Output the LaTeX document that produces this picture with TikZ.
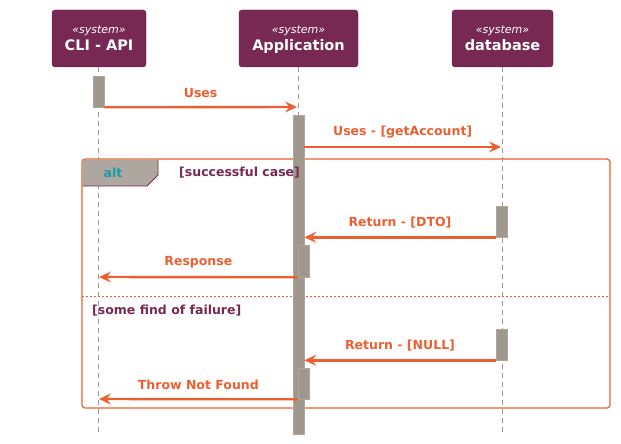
\documentclass[tikz,border=0pt]{standalone}
\usepackage{fontspec}
\setmainfont{DejaVu Sans}
\usetikzlibrary{arrows.meta,positioning}
\definecolor{umlpurple}{HTML}{772953}
\definecolor{umlorange}{HTML}{EC5F30}
\definecolor{umlgray}{HTML}{A0978F}
\definecolor{umlteal}{HTML}{1A9BAA}
\begin{document}
\begin{tikzpicture}[x=1pt,y=-1pt,
	actor/.style={fill=umlpurple,draw=umlpurple!80!black,rounded corners=3pt,text=white,align=center,minimum height=57pt,inner sep=0pt},
	stereo/.style={text=white,font=\fontsize{11}{12}\selectfont\itshape,anchor=base,inner sep=0pt},
	actname/.style={text=white,font=\fontsize{14.5}{16}\selectfont\bfseries,anchor=base,inner sep=0pt},
	lifeline/.style={draw=umlgray,line width=0.9pt,dash pattern=on 5pt off 4pt},
	actbar/.style={fill=umlgray,draw=umlgray!85!white,line width=0.6pt,minimum width=11pt,inner sep=0pt},
	msg/.style={draw=umlorange,line width=2.4pt,-{Stealth[length=12pt,width=11pt,inset=4.5pt]}},
	lbl/.style={text=umlorange,font=\fontsize{12.5}{14}\selectfont\bfseries,inner sep=1pt},
	guard/.style={text=umlpurple,font=\fontsize{12.5}{14}\selectfont\bfseries,inner sep=0pt,anchor=west}]
	\useasboundingbox (0,0) rectangle (621,444);
	% participants
	\path (99,38.5) node (cli) [actor,minimum width=94pt] {}
		  (298.5,38.5) node (app) [actor,minimum width=119pt] {}
		  (502.5,38.5) node (db) [actor,minimum width=101pt] {};
	\path (99,34) node (clist) [stereo] {«system»}
		  (298.5,34) node (appst) [stereo] {«system»}
		  (502.5,34) node (dbst) [stereo] {«system»}
		  (99,51) node (cliname) [actname] {CLI - API}
		  (298.5,51) node (appname) [actname] {Application}
		  (502.5,51) node (dbname) [actname] {database};
	\path (98,436) coordinate (cliend)
		  (298,436) coordinate (append)
		  (502,436) coordinate (dbend);
	\draw[lifeline] (cli.south -| cliend) -- (cliend);
	\draw[lifeline] (app.south -| append) -- (append);
	\draw[lifeline] (db.south -| dbend) -- (dbend);
	% alt frame
	\draw[umlorange,line width=1.2pt,rounded corners=3pt] (82,159) rectangle (610,408);
	\fill[umlgray!85!white] (82.6,159.6) -- (158,159.6) -- (158,175) -- (147,186) -- (82.6,186) -- cycle;
	\draw[umlpurple,line width=0.8pt] (82.6,186) -- (147,186) -- (158,175) -- (158,159.6);
	\draw[umlorange,line width=0.9pt,dash pattern=on 2pt off 2pt] (82,296) -- (610,296);
	% activations
	\path (98.5,91.5) node (actcli) [actbar,minimum height=31pt] {}
		  (298.5,274.5) node (actapp) [actbar,minimum height=319pt] {}
		  (501.5,221.5) node (actdba) [actbar,minimum height=31pt] {}
		  (303.5,261) node (actappa) [actbar,minimum height=32pt] {}
		  (501.5,344.5) node (actdbb) [actbar,minimum height=31pt] {}
		  (303.5,383.5) node (actappb) [actbar,minimum height=31pt] {};
	\path (113,173) node (alt) [text=umlteal,font=\fontsize{12.5}{14}\selectfont\bfseries] {alt}
		  (179,173) node (succ) [guard] {[successful case]}
		  (92,311) node (fail) [guard] {[some find of failure]};
	\path (297,107) coordinate (to1)
		  (501,147) coordinate (to2)
		  (99,277) coordinate (to4)
		  (99,399) coordinate (to6);
	% messages
	\draw[msg] (actcli.south east) -- node (m1) [lbl,above=7pt] {Uses} (to1);
	\draw[msg] (actapp.north east |- to2) -- node (m2) [lbl,above=7pt] {Uses - [getAccount]} (to2);
	\draw[msg] (actdba.south west) -- node (m3) [lbl,above=7pt] {Return - [DTO]} (actapp.east |- actdba.south);
	\draw[msg] (actappa.south west) -- node (m4) [lbl,above=7pt] {Response} (to4);
	\draw[msg] (actdbb.south west) -- node (m5) [lbl,above=7pt] {Return - [NULL]} (actapp.east |- actdbb.south);
	\draw[msg] (actappb.south west) -- node (m6) [lbl,above=7pt] {Throw Not Found} (to6);
\end{tikzpicture}
\end{document}
